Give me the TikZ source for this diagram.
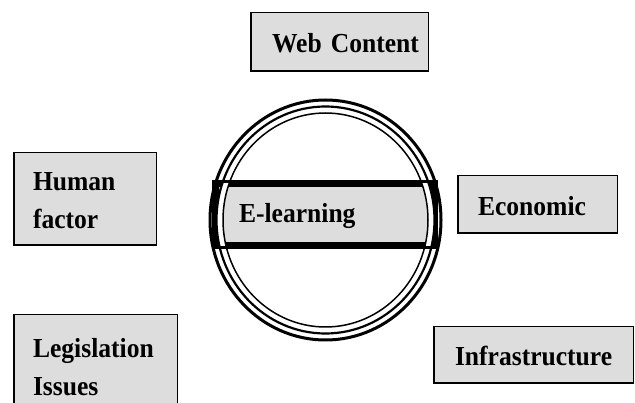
\documentclass[tikz,border=0pt]{standalone}
\usepackage{fontspec}
\setmainfont{Liberation Serif}[FakeStretch=0.93]
\definecolor{boxgray}{RGB}{221,221,221}
\tikzset{
  factor/.style n args={3}{draw, fill=boxgray, line width=1.5pt,
    inner xsep=0pt, inner ysep=0pt, align=left, text height=22pt,
    text width=#1, minimum height=#2,
    execute at begin node={\leftskip=#3},
    font=\fontsize{27.5}{38}\selectfont\bfseries},
}

\begin{document}
\begin{tikzpicture}[x=1pt,y=-1pt]
        \useasboundingbox (0,0) rectangle (635,403);
        % the factors round the centre
        \node[factor={177.5pt}{58.5pt}{21.25pt}] (web) at (339.5,42) {Web Content};
        \node[factor={142.5pt}{92.5pt}{19.25pt}] (human) at (85,199) {Human\\factor};
        \node[factor={163.5pt}{102.5pt}{19.25pt}] (law) at (95.5,366) {Legislation\\Issues};
        \node[factor={159.5pt}{57.5pt}{20.25pt}] (econ) at (537.5,204.5) {Economic};
        \node[factor={199.5pt}{56.5pt}{21.25pt}] (infra) at (533.5,355) {Infrastructure};
        % the centre
        \node[factor={219pt}{62pt}{23.5pt}, line width=7pt] (core) at (325,214.5) {E-learning};
        \coordinate (hub) at (325.5,220);
        \begin{scope}
          \clip ([shift={(3.5,3.5)}]core.north west) rectangle ([shift={(-3.5,-3.5)}]core.south east);
          \draw[white, line width=6.5pt] (hub) ellipse [x radius=105.75pt, y radius=110.25pt];
        \end{scope}
        \foreach \rx/\ry/\lw in {115.5/120/3, 109/113.5/2.2, 102.5/107/1.5} {
          \draw[line width=\lw pt] (hub) ellipse [x radius=\rx pt, y radius=\ry pt];
        }
      \end{tikzpicture}
\end{document}
